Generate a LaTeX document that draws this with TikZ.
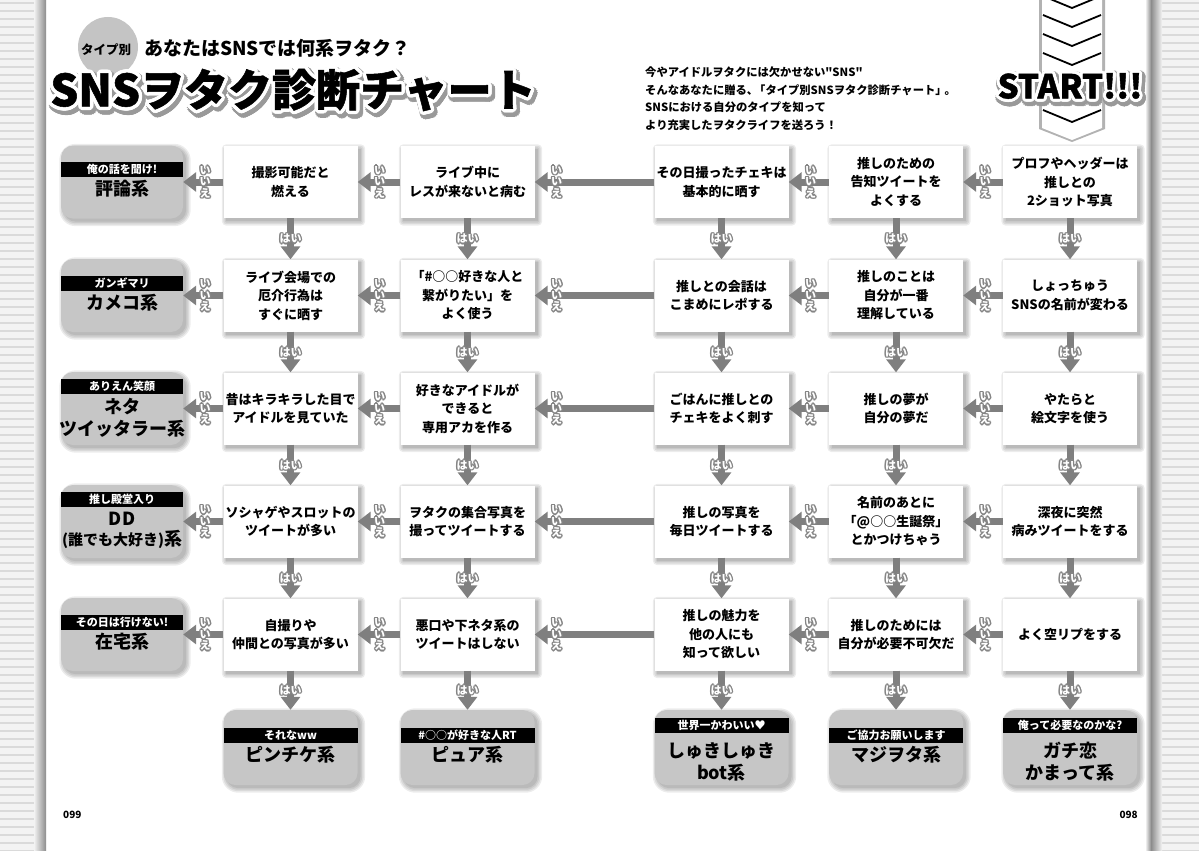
\documentclass[tikz,border=0pt]{standalone}
\usepackage{fontspec}
\setmainfont{Noto Sans CJK JP}[Ligatures=TeXOff]
\newfontfamily\heavyfont{Noto Sans CJK JP}[Ligatures=TeXOff,BoldFeatures={FakeBold=1.2}]
\usetikzlibrary{arrows.meta,calc}
\pgfdeclarelayer{pagebg}
\pgfdeclarelayer{shadow}
\pgfsetlayers{pagebg,shadow,main}
\definecolor{arrgray}{HTML}{7F7F7F}
\definecolor{labgray}{HTML}{858585}
\definecolor{resgray}{HTML}{C6C6C6}
\definecolor{circgray}{HTML}{C4C4C4}
\definecolor{stripebg}{HTML}{F3F3F3}
\definecolor{stripeln}{HTML}{DADADA}
\newcommand\fsz[2]{\fontsize{#1}{#2}\selectfont}
% outlined text: #1 name, #2 position, #3 style, #4 outline colour, #5 radius, #6 text
\newcommand\outl[6]{%
  \foreach \oa [count=\oi] in {0,45,...,315}{\node[#3,text=#4,shift={(\oa:#5)}] (#1-o\oi) at (#2) {#6};}%
  \node[#3] (#1) at (#2) {#6};}
% soft shadow behind a node: #1 node, #2 corner radius
\newcommand\shd[2]{%
  \begin{pgfonlayer}{shadow}
  \foreach \s in {0,1.5,3,4.5}{\fill[black,opacity=0.075,rounded corners=#2+\s] ([shift={(3-\s,3-\s)}]#1.north west) rectangle ([shift={(3+\s,3+\s)}]#1.south east);}
  \end{pgfonlayer}}
\begin{document}
\begin{tikzpicture}[x=1pt,y=-1pt,
  qbox/.style={fill=white, minimum width=134pt, minimum height=72pt, inner sep=2pt, align=center, font=\fsz{13}{18.5}\bfseries},
  rbox/.style={fill=resgray, rounded corners=12pt, minimum height=73pt, inner sep=0pt},
  band/.style={fill=black, text=white, minimum height=15pt, inner sep=0pt, font=\fsz{11}{13}\bfseries},
  rtext/.style={font=\fsz{18}{22}\bfseries, align=center, inner sep=0pt},
  arr/.style={draw=arrgray, line width=7pt, -{Triangle[length=13pt,width=19pt]}},
  lab/.style={font=\fsz{11}{11.5}\bfseries, align=center, inner sep=0pt, text=white},
  title/.style={font=\heavyfont\fsz{44}{48}\bfseries, inner sep=0pt},
  starttxt/.style={font=\heavyfont\fsz{33}{36}\bfseries, inner sep=0pt},
]
\useasboundingbox (0,0) rectangle (1199,851);
% ---------- page background ----------
\begin{pgfonlayer}{pagebg}
\fill[white] (0,0) rectangle (1199,851);
\fill[stripebg] (0,0) rectangle (45,851);
\foreach \y in {3,11,...,851} \draw[stripeln,line width=1.2pt] (0,\y) -- (45,\y);
\shade[left color=stripebg,right color=black!45] (34,0) rectangle (46,851);
\fill[stripebg] (1152,0) rectangle (1199,851);
\foreach \y in {3,11,...,851} \draw[stripeln,line width=1.2pt] (1152,\y) -- (1199,\y);
\shade[left color=white,right color=black!45] (1145,0) rectangle (1151,851);
\shade[left color=black!45,right color=stripebg] (1151,0) rectangle (1162,851);
\end{pgfonlayer}
% ---------- heading ----------
\fill[circgray] (108,47) circle (30);
\node[font=\fsz{12.5}{14}\bfseries, inner sep=0] (type) at (106,50) {タイプ別};
\node[font=\fsz{19}{22}\bfseries, inner sep=0, anchor=west] (sub) at (144,48) {あなたはSNSでは何系ヲタク？};
\foreach \oa [count=\oi] in {0,22.5,...,337.5}{\node[title,text=black!40,shift={(\oa:5)},shift={(2,3)}] (tsh\oi) at (293,90) {SNSヲタク診断チャート};}
\foreach \oa [count=\oi] in {0,22.5,...,337.5}{\node[title,text=white,shift={(\oa:3.5)}] (tol\oi) at (293,90) {SNSヲタク診断チャート};}
\node[title] (title) at (293,90) {SNSヲタク診断チャート};
\node[anchor=north west, align=left, font=\fsz{11.3}{17.5}\bfseries, inner sep=0] (intro) at (645,67)
  {今やアイドルヲタクには欠かせない"SNS"\\そんなあなたに贈る、\kern-4pt「タイプ別SNSヲタク診断チャート」\kern-2pt 。\\SNSにおける自分のタイプを知って\\より充実したヲタクライフを送ろう！};
% ---------- START arrow ----------
\fill[black!30] (1039,-5) -- (1105,-5) -- (1105,129) -- (1072,142) -- (1039,129) -- cycle;
\fill[white] (1042,-5) -- (1102,-5) -- (1102,128) -- (1072,140) -- (1042,128) -- cycle;
\foreach \v in {8,27,...,122} \draw[black,line width=1.8pt] (1043,\v-12) -- (1072,\v) -- (1101,\v-12);
\foreach \oa [count=\oi] in {0,22.5,...,337.5}{\node[starttxt,text=black!40,shift={(\oa:5)},shift={(1.5,2.5)}] (ssh\oi) at (1070,86) {START!!!};}
\foreach \oa [count=\oi] in {0,22.5,...,337.5}{\node[starttxt,text=white,shift={(\oa:3)}] (sol\oi) at (1070,86) {START!!!};}
\node[starttxt] (start) at (1070,86) {START!!!};
% ---------- question boxes ----------
\node[qbox] (q11) at (290.5,182) {撮影可能だと\\燃える};
\node[qbox] (q12) at (467.5,182) {ライブ中に\\レスが来ないと病む};
\node[qbox] (q13) at (721.5,182) {その日撮ったチェキは\\基本的に晒す};
\node[qbox] (q14) at (896,182) {推しのための\\告知ツイートを\\よくする};
\node[qbox] (q15) at (1070,182) {プロフやヘッダーは\\推しとの\\2ショット写真};
\node[qbox] (q21) at (290.5,295.5) {ライブ会場での\\厄介行為は\\すぐに晒す};
\node[qbox] (q22) at (467.5,295.5) {「\#○○好きな人と\\繋がりたい」を\\よく使う};
\node[qbox] (q23) at (721.5,295.5) {推しとの会話は\\こまめにレポする};
\node[qbox] (q24) at (896,295.5) {推しのことは\\自分が一番\\理解している};
\node[qbox] (q25) at (1070,295.5) {しょっちゅう\\SNSの名前が変わる};
\node[qbox] (q31) at (290.5,408.5) {昔はキラキラした目で\\アイドルを見ていた};
\node[qbox] (q32) at (467.5,408.5) {好きなアイドルが\\できると\\専用アカを作る};
\node[qbox] (q33) at (721.5,408.5) {ごはんに推しとの\\チェキをよく刺す};
\node[qbox] (q34) at (896,408.5) {推しの夢が\\自分の夢だ};
\node[qbox] (q35) at (1070,408.5) {やたらと\\絵文字を使う};
\node[qbox] (q41) at (290.5,521.5) {ソシャゲやスロットの\\ツイートが多い};
\node[qbox] (q42) at (467.5,521.5) {ヲタクの集合写真を\\撮ってツイートする};
\node[qbox] (q43) at (721.5,521.5) {推しの写真を\\毎日ツイートする};
\node[qbox] (q44) at (896,521.5) {名前のあとに\\「@○○生誕祭」\\とかつけちゃう};
\node[qbox] (q45) at (1070,521.5) {深夜に突然\\病みツイートをする};
\node[qbox] (q51) at (290.5,634.5) {自撮りや\\仲間との写真が多い};
\node[qbox] (q52) at (467.5,634.5) {悪口や下ネタ系の\\ツイートはしない};
\node[qbox] (q53) at (721.5,634.5) {推しの魅力を\\他の人にも\\知って欲しい};
\node[qbox] (q54) at (896,634.5) {推しのためには\\自分が必要不可欠だ};
\node[qbox] (q55) at (1070,634.5) {よく空リプをする};
\foreach \r in {1,...,5}{\foreach \c in {1,...,5}{\shd{q\r\c}{0}}}
% ---------- left results ----------
\node[rbox,minimum width=122pt] (res1) at (122,182) {};
\node[band,minimum width=122pt] (res1b) at (122,169.5) {俺の話を聞け!};
\node[rtext] (res1t) at (122,189) {評論系};
\node[rbox,minimum width=122pt] (res2) at (122,295.5) {};
\node[band,minimum width=122pt] (res2b) at (122,283) {ガンギマリ};
\node[rtext] (res2t) at (122,302.5) {カメコ系};
\node[rbox,minimum width=122pt] (res3) at (122,408.5) {};
\node[band,minimum width=122pt] (res3b) at (122,386) {ありえん笑顔};
\node[rtext] (res3t) at (122,417.5) {ネタ\\ツイッタラー系};
\node[rbox,minimum width=122pt] (res4) at (122,521.5) {};
\node[band,minimum width=122pt] (res4b) at (122,499) {推し殿堂入り};
\node[rtext,font=\fsz{18}{20}\bfseries] (res4t) at (122,530.5) {DD\\{\fsz{15}{20}(誰でも大好き)}系};
\node[rbox,minimum width=122pt] (res5) at (122,634.5) {};
\node[band,minimum width=122pt] (res5b) at (122,622) {その日は行けない!};
\node[rtext] (res5t) at (122,641.5) {在宅系};
% ---------- bottom results ----------
\node[rbox,minimum width=134pt,minimum height=75pt] (bot1) at (290.5,747.5) {};
\node[band,minimum width=134pt] (bot1b) at (290.5,735) {それなww};
\node[rtext] (bot1t) at (290.5,755) {ピンチケ系};
\node[rbox,minimum width=134pt,minimum height=75pt] (bot2) at (467.5,747.5) {};
\node[band,minimum width=134pt] (bot2b) at (467.5,735) {\#○○が好きな人RT};
\node[rtext] (bot2t) at (467.5,755) {ピュア系};
\node[rbox,minimum width=134pt,minimum height=75pt] (bot3) at (721.5,747.5) {};
\node[band,minimum width=134pt] (bot3b) at (721.5,725) {世界一かわいい♥};
\node[rtext] (bot3t) at (721.5,762) {しゅきしゅき\\bot系};
\node[rbox,minimum width=134pt,minimum height=75pt] (bot4) at (896,747.5) {};
\node[band,minimum width=134pt] (bot4b) at (896,735) {ご協力お願いします};
\node[rtext] (bot4t) at (896,755) {マジヲタ系};
\node[rbox,minimum width=134pt,minimum height=75pt] (bot5) at (1070,747.5) {};
\node[band,minimum width=134pt] (bot5b) at (1070,725) {俺って必要なのかな?};
\node[rtext] (bot5t) at (1070,762) {ガチ恋\\かまって系};
\foreach \r in {1,...,5}{\shd{res\r}{12}\shd{bot\r}{12}}
% ---------- connectors ----------
\foreach \r in {1,...,5}{
  \foreach \a/\b in {5/4,4/3,3/2,2/1}{
    \draw[arr] (q\r\a.west) -- (q\r\b.east);
    \outl{iie\r\b}{[xshift=22pt]q\r\b.east}{lab}{labgray}{1.4}{い\\い\\え}
  }
  \draw[arr] (q\r1.west) -- (res\r.east);
  \outl{iie\r0}{[xshift=22pt]res\r.east}{lab}{labgray}{1.4}{い\\い\\え}
}
\foreach \c in {1,...,5}{
  \foreach \r/\n in {1/2,2/3,3/4,4/5}{
    \draw[arr] (q\r\c.south) -- (q\n\c.north);
    \outl{hai\r\c}{$(q\r\c.south)!0.5!(q\n\c.north)$}{lab}{labgray}{1.4}{はい}
  }
  \draw[arr] (q5\c.south) -- (bot\c.north);
  \outl{hai5\c}{$(q5\c.south)!0.5!(bot\c.north)$}{lab}{labgray}{1.4}{はい}
}
% ---------- page numbers ----------
\node[anchor=west,font=\fsz{10}{12}\bfseries,inner sep=0] (p099) at (63,815) {099};
\node[anchor=east,font=\fsz{10}{12}\bfseries,inner sep=0] (p098) at (1138,815) {098};
\end{tikzpicture}
\end{document}
